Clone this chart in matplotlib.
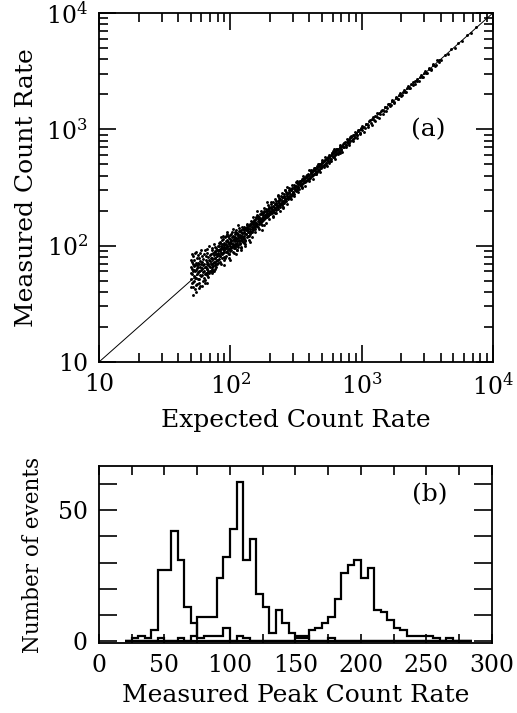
import numpy as np
import matplotlib
matplotlib.use('Agg')
import matplotlib.pyplot as plt

plt.rcParams['font.family'] = 'DejaVu Serif'
plt.rcParams['mathtext.fontset'] = 'dejavuserif'

# panel (a): expected vs measured count rate
pts = [
    (50,58),(50,44),(51,72),(51,63),(52,49),(52,81),(53,55),(53,67),(54,42),(54,60),
    (55,88),(55,53),(56,64),(56,47),(57,71),(57,59),(58,52),(58,78),(59,66),(59,45),
    (60,62),(60,91),(61,56),(61,73),(62,50),(62,68),(63,84),(63,61),(64,57),(64,48),
    (65,75),(65,66),(66,93),(66,58),(67,70),(67,63),(68,54),(68,80),(69,67),(69,99),
    (70,61),(70,74),(71,85),(71,69),(72,58),(72,77),(73,92),(73,66),(74,71),(74,60),
    (75,83),(75,104),(76,68),(76,79),(77,63),(77,88),(78,74),(78,95),(79,70),(79,82),
    (52,38),(55,40),(58,43),(61,45),(64,51),(67,48),
    (80,92),(80,71),(81,86),(82,99),(82,77),(83,90),(84,105),(84,81),(85,94),(85,70),
    (86,98),(87,84),(87,112),(88,93),(89,101),(89,76),(90,97),(90,88),(91,118),(92,95),
    (92,82),(93,104),(94,90),(94,110),(95,99),(96,86),(96,122),(97,103),(98,94),(98,79),
    (99,108),(100,100),(100,115),(101,92),(102,126),(102,105),(103,97),(104,112),(105,88),(105,104),
    (106,119),(107,99),(108,131),(108,110),(109,95),(110,116),(111,104),(112,125),(112,92),(113,110),
    (114,120),(115,101),(116,134),(117,112),(118,105),(119,124),(120,98),(120,117),(122,128),(123,110),
    (124,140),(125,119),(126,106),(127,131),(128,121),(130,112),(131,138),(132,127),(134,118),(135,143),
    (136,130),(138,122),(139,148),(140,134),(142,126),(143,152),(145,139),(146,131),(148,155),(150,142),
    (150,160),(85,118),(95,130),(105,140),(115,150),(90,68),(100,75),(110,84),(120,92),(130,100),(140,108),
    (152,148),(154,166),(155,140),(157,158),(158,172),(160,152),(162,168),(163,145),(165,178),(166,160),
    (168,171),(170,155),(171,186),(173,168),(175,162),(176,190),(178,175),(180,168),(182,195),(183,178),
    (185,172),(187,200),(188,183),(190,176),(192,205),(194,188),(195,180),(197,210),(199,193),(200,186),
    (203,214),(205,198),(207,190),(210,221),(212,204),(214,196),(217,228),(219,211),(221,202),(224,234),
    (226,218),(229,208),(232,243),(234,225),(237,216),(240,250),(243,233),(246,224),(249,260),(252,241),
    (255,232),(258,268),(261,250),(265,240),(268,277),(271,259),(275,250),(278,287),(282,268),(286,258),
    (290,300),(294,280),(298,270),(160,200),(175,135),(190,235),(210,175),(230,275),(250,210),(270,320),
    (180,150),(220,190),(260,300),
    (302,292),(306,318),(310,300),(315,325),(320,310),(325,336),(330,318),(335,345),(340,330),(346,356),
    (352,340),(358,368),(364,352),(370,380),(376,362),(382,392),(388,376),(395,405),(402,388),(409,420),
    (416,402),(423,436),(430,415),(438,450),(446,430),(454,466),(462,446),(470,482),(479,462),(488,500),
    (497,480),(506,520),(515,498),(525,540),(535,515),(545,558),(555,536),(566,580),(577,556),(588,602),
    (600,578),(612,625),(624,600),(636,650),(648,626),(661,676),(674,650),(688,705),(700,676),
    (320,360),(350,315),(400,445),(450,410),(500,550),(560,510),(620,680),(680,630),
    (712,725),(726,705),(740,760),(755,735),(770,785),(786,762),(802,820),(818,795),(835,855),(852,828),
    (870,890),(888,864),(906,925),(925,900),(944,965),(964,938),(984,1005),(1005,980),(1030,1055),(1055,1028),
    (1080,1105),(1110,1080),(1140,1170),(1170,1140),(1200,1230),(1235,1200),(1270,1300),(1305,1272),
    (1345,1375),(1385,1350),(1425,1460),(1470,1432),(1515,1550),(1560,1522),(1610,1645),(1660,1620),
    (1710,1750),(1765,1722),(1820,1860),(1880,1835),(1940,1985),(2000,1952),
    (2070,2110),(2140,2095),(2220,2260),(2300,2250),(2380,2430),(2470,2420),(2560,2610),(2660,2600),
    (2760,2820),(2870,2810),(2980,3040),(3100,3030),(3230,3300),(3370,3300),(3520,3590),(3680,3600),
    (3850,3930),(4050,3960),(4280,4360),(4520,4430),(4800,4890),(5100,5000),(5450,5550),(5850,5740),
    (6300,6420),(6800,6680),(7400,7530),
    # second batch, filling the dense part of the cloud
    (50,66),(50,52),(50,75),(51,48),(51,57),(51,84),(52,61),(52,70),(52,44),(53,76),
    (53,50),(53,62),(54,68),(54,53),(54,86),(55,62),(55,71),(55,46),(56,57),(56,79),
    (56,68),(57,52),(57,65),(57,83),(58,60),(58,69),(58,48),(59,74),(59,56),(59,87),
    (60,55),(60,70),(61,64),(61,82),(62,59),(62,77),(63,53),(63,70),(64,66),(64,91),
    (65,58),(65,81),(66,72),(66,63),(67,56),(67,86),(68,69),(68,61),(69,76),(69,58),
    (70,83),(70,66),(71,60),(71,78),(72,70),(72,95),(73,63),(73,79),(74,86),(74,67),
    (75,73),(75,61),(76,90),(76,71),(77,78),(77,98),(78,66),(78,84),(79,76),(79,92),
    (80,84),(80,100),(81,75),(82,91),(83,82),(83,108),(84,94),(85,87),(86,79),(86,103),
    (87,95),(88,86),(88,115),(89,92),(90,106),(90,80),(91,96),(92,110),(93,88),(93,121),
    (94,99),(95,112),(96,93),(97,117),(97,85),(98,105),(99,96),(100,123),(100,90),(101,110),
    (102,98),(103,132),(104,101),(105,120),(106,95),(107,114),(108,104),(109,125),(110,100),(110,137),
    (111,113),(112,106),(113,128),(114,98),(115,117),(116,109),(117,141),(118,119),(119,104),(120,130),
    (121,112),(122,121),(123,146),(124,115),(125,108),(126,136),(127,117),(128,128),(129,110),(130,142),
    (131,125),(133,135),(134,150),(136,122),(137,140),(139,132),(141,155),(142,138),(144,130),(146,160),
    (147,145),(149,136),(151,165),(153,152),(155,146),(156,175),(158,158),(160,148),(162,180),(164,162),
    (166,154),(168,186),(170,168),(172,160),(174,192),(176,172),(178,166),(181,198),(183,184),(185,176),
    (188,208),(190,190),(193,182),(196,215),(198,199),(201,190),(204,226),(207,206),(210,197),(213,235),
    (216,214),(219,205),(222,244),(226,224),(229,214),(233,256),(236,233),(240,222),(244,266),(247,243),
    (251,232),(255,278),(259,255),(263,244),(267,290),(271,266),(276,255),(280,303),(285,280),(289,268),
    (294,316),(298,292),(303,280),(308,330),(313,305),(318,294),(323,344),(328,318),(334,306),(340,362),
    (346,338),(352,372),(358,345),(365,385),(372,358),(379,398),(386,370),(393,412),(401,384),(409,428),
    (417,400),(425,445),(434,416),(443,462),(452,432),(461,480),(471,450),(481,500),(491,470),(502,522),
    (513,490),(524,545),(535,512),(547,570),(559,535),(571,595),(584,560),(597,622),(610,585),(624,650),
    (638,612),(653,680),(668,640),(683,710),(699,670),(715,742),(732,700),(749,778),(766,735),(784,815),
    (802,770),(821,852),(840,806),(860,892),(880,845),(901,935),(922,885),(944,978),(966,928),(989,1025),
    # third batch, outer edge of the band
    (150,175),(155,132),(160,185),(165,140),(170,198),(175,150),(180,210),(186,158),(192,222),(198,168),
    (204,236),(210,180),(217,250),(224,190),(231,265),(238,200),(246,282),(254,215),(262,300),(270,228),
    (279,312),(288,252),(297,330),(307,268),(317,350),(327,288),(338,360),(349,318),(360,394),(372,328),
    (384,405),(397,362),(410,447),(423,374),(437,462),(451,410),(466,505),(481,426),(497,525),(513,470),
    (530,575),(547,488),(565,598),(584,535),(603,650),(623,560),(643,672),(664,615),(686,735),(708,640),
    (731,765),(755,700),(780,830),(806,732),(832,868),(859,800),(888,942),(917,836),(947,985),(978,910),
    (1010,1065),(1045,955),(1080,1118),(1115,1040),(1150,1205),(1190,1090),(1230,1270),(1270,1190),
    (1310,1370),(1355,1245),(1400,1445),(1445,1360),(1495,1560),(1545,1425),
    (1600,1665),(1650,1585),(1710,1780),(1770,1700),(1830,1905),(1900,1825),(1970,2050),(2040,1960),
    (2110,2195),(2190,2105),(2270,2360),(2350,2260),(2440,2535),(2530,2435),(2620,2720),(2720,2615),
    (2820,2930),(2920,2810),(3030,3145),(3140,3020),(3260,3385),(3380,3250),(3500,3630),(3630,3490),
    (3770,3910),(3910,3760),
    (152,160),(158,150),(163,175),(169,160),(176,184),(182,172),(189,198),(196,186),(203,212),(210,198),
    (218,230),(226,214),(234,246),(242,228),(251,264),(260,245),(270,283),(280,263),(290,305),(300,282),
    (311,327),(322,302),(334,350),(346,325),(358,376),(371,350),(385,405),(399,375),(413,435),(428,402),
    (444,468),(460,432),(477,502),(494,464),(512,538),(531,498),(550,578),(570,535),(590,622),(612,575),
    (82,105),(84,72),(88,120),(91,78),(95,125),(98,84),(103,118),(106,86),(110,128),(113,92),
    (118,134),(121,96),(126,145),(129,103),(135,152),(138,112),(144,162),(147,118),(85,100),(90,102),
    (96,108),(102,112),(108,118),(114,125),(120,135),(127,138),(134,146),(141,150),
]
expected = [p[0] for p in pts]
measured = [p[1] for p in pts]

# panel (b): histograms of measured peak count rate, 5-count bins from 20 to 285
edges = np.arange(20, 290, 5)
hist_60 = [0,1,2,1,4,27,27,42,31,13,7,1,2,2,2,5,0,2,1,0,0,0,0,0,0,0,0,
           0,0,0,0,0,0,0,0,0,0,0,0,0,0,0,0,0,0,0,0,0,0,0,0,0,0]
hist_110 = [0,0,0,0,0,1,0,0,1,0,2,9,9,9,24,32,43,61,31,39,18,13,3,12,7,3,2,
            2,0,0,0,1,0,0,0,0,0,0,0,0,0,0,0,0,0,0,0,0,0,0,0,0,0]
hist_200 = [0,0,0,0,0,0,0,0,0,0,0,0,0,0,0,0,0,0,0,0,0,0,0,0,0,0,1,
            1,4,5,7,9,16,26,29,31,24,28,12,11,8,5,4,2,2,2,2,1,0,1,0,0,0]

fig = plt.figure(figsize=(5.17, 7.13), dpi=100)
ax1 = fig.add_axes([0.1915, 0.4923, 0.762, 0.4895])
ax2 = fig.add_axes([0.1915, 0.0982, 0.760, 0.2482])

ax1.plot([10, 1e4], [10, 1e4], color='black', lw=0.7)
ax1.plot(expected, measured, 'o', color='black', ms=2.1, mew=0)
ax1.set_xscale('log')
ax1.set_yscale('log')
ax1.set_xlim(10, 1e4)
ax1.set_ylim(10, 1e4)
ax1.set_xticks([10, 100, 1000, 10000])
ax1.set_xticklabels(['10', '$10^2$', '$10^3$', '$10^4$'])
ax1.set_yticks([10, 100, 1000, 10000])
ax1.set_yticklabels(['10', '$10^2$', '$10^3$', '$10^4$'])
ax1.set_xlabel('Expected Count Rate', fontsize=18, labelpad=7)
ax1.set_ylabel('Measured Count Rate', fontsize=18, labelpad=6)
ax1.text(0.835, 0.665, '(a)', transform=ax1.transAxes, fontsize=18,
         ha='center', va='center')
ax1.tick_params(which='major', direction='in', length=12, width=1.2,
                top=True, right=True, labelsize=17, pad=8)
ax1.tick_params(which='minor', direction='in', length=6.5, width=1.2,
                top=True, right=True)

for h in (hist_60, hist_110, hist_200):
    ax2.stairs(h, edges, color='black', lw=1.6)
ax2.set_xlim(0, 300)
ax2.set_ylim(-0.8, 67)
ax2.set_xticks([0, 50, 100, 150, 200, 250, 300])
ax2.set_xticks(np.arange(25, 300, 50), minor=True)
ax2.set_yticks([0, 10, 20, 30, 40, 50, 60])
ax2.set_yticklabels(['0', '', '', '', '', '50', ''])
ax2.set_xlabel('Measured Peak Count Rate', fontsize=18, labelpad=5)
ax2.set_ylabel('Number of events', fontsize=15.5, labelpad=10)
ax2.text(0.842, 0.836, '(b)', transform=ax2.transAxes, fontsize=18,
         ha='center', va='center')
ax2.tick_params(axis='x', which='both', direction='in', length=6.5, width=1.2,
                top=True, labelsize=17, pad=8)
ax2.tick_params(axis='y', which='major', direction='in', length=13, width=1.2,
                right=True, labelsize=17, pad=8)

for ax in (ax1, ax2):
    for s in ax.spines.values():
        s.set_linewidth(1.3)

fig.savefig('out.png', dpi=100)
